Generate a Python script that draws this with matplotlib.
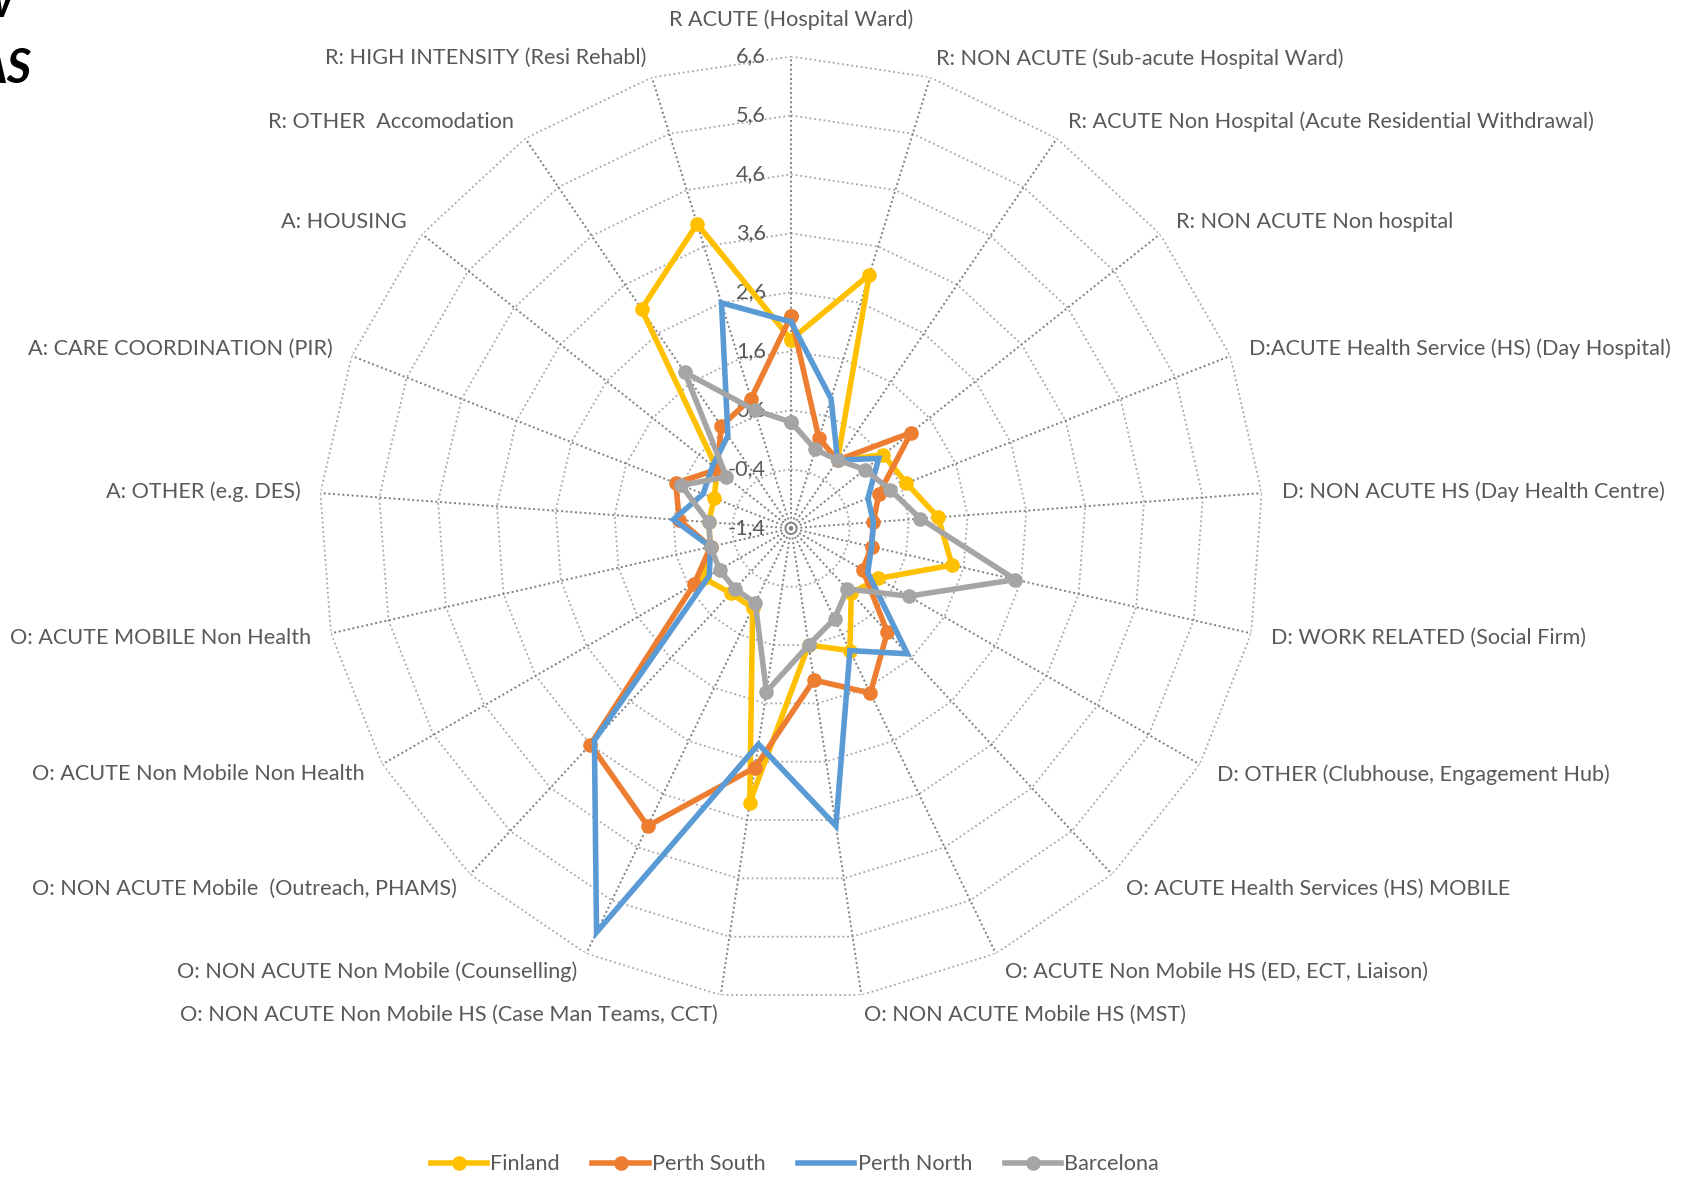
import numpy as np
import matplotlib.pyplot as plt
from matplotlib.transforms import offset_copy
from matplotlib.lines import Line2D

categories = [
    "R ACUTE (Hospital Ward)",
    "R: NON ACUTE (Sub-acute Hospital Ward)",
    "R: ACUTE Non Hospital (Acute Residential Withdrawal)",
    "R: NON ACUTE Non hospital",
    "D:ACUTE Health Service (HS) (Day Hospital)",
    "D: NON ACUTE HS (Day Health Centre)",
    "D: WORK RELATED (Social Firm)",
    "D: OTHER (Clubhouse, Engagement Hub)",
    "O: ACUTE Health Services (HS) MOBILE",
    "O: ACUTE Non Mobile HS (ED, ECT, Liaison)",
    "O: NON ACUTE Mobile HS (MST)",
    "O: NON ACUTE Non Mobile HS (Case Man Teams, CCT)",
    "O: NON ACUTE Non Mobile (Counselling)",
    "O: NON ACUTE Mobile  (Outreach, PHAMS)",
    "O: ACUTE Non Mobile Non Health",
    "O: ACUTE MOBILE Non Health",
    "A: OTHER (e.g. DES)",
    "A: CARE COORDINATION (PIR)",
    "A: HOUSING",
    "R: OTHER  Accomodation",
    "R: HIGH INTENSITY (Resi Rehabl)",
]

finland = [1.8, 3.1, 0.0, 0.6, 0.7, 1.1, 1.4, 0.3, 0.1, 0.9, 0.6,
           3.3, 0.1, 0.1, 0.3, 0.0, 0.0, 0.0, 0.2, 3.1, 4.0]
perth_south = [2.2, 0.2, 0.0, 1.2, 0.2, 0.0, 0.0, 0.0, 1.0, 1.7, 1.2,
               2.7, 4.2, 3.6, 0.5, 0.0, 0.5, 0.7, 0.2, 0.7, 0.9]
perth_north = [2.1, 0.9, 0.0, 0.5, 0.0, 0.0, 0.0, 0.1, 1.5, 0.9, 3.7,
               2.3, 6.2, 3.5, 0.2, 0.0, 0.6, 0.2, 0.3, 0.5, 2.6]
barcelona = [0.4, 0.0, 0.0, 0.2, 0.4, 0.8, 2.5, 0.9, 0.0, 0.3, 0.6,
             1.4, 0.0, 0.0, 0.0, 0.0, 0.0, 0.6, 0.0, 1.8, 0.7]

r_min, r_max = -1.4, 6.6
ring_values = np.arange(-0.4, 6.61, 1.0)

plt.rcParams['font.family'] = ['Lato', 'DejaVu Sans']
text_col = '#595959'
fs = 15.6

fig = plt.figure(figsize=(16.91, 11.82), dpi=100)
ax = fig.add_axes([0.1887, 0.1537, 0.5582, 0.7986], projection='polar')
ax.set_theta_zero_location('N')
ax.set_theta_direction(-1)
ax.set_ylim(r_min, r_max)
ax.grid(False)
ax.spines['polar'].set_visible(False)
ax.set_xticks([])
ax.set_yticks([])
ax.patch.set_alpha(0)

n = len(categories)
theta = np.arange(n) * 2 * np.pi / n
theta_c = np.append(theta, theta[0])

# polygon rings and spokes, dotted like the Excel radar grid
for r in ring_values:
    ax.plot(theta_c, [r] * (n + 1), color='#a6a6a6', lw=1.3,
            ls=(0, (1, 1.6)), zorder=1)
for t in theta:
    ax.plot([t, t], [r_min, r_max], color='#7f7f7f', lw=1.4,
            ls=(0, (1, 1.4)), zorder=1)

# value labels along the top spoke
tick_tr = offset_copy(ax.transData, fig=fig, x=-25, y=0, units='dots')
for v in np.arange(r_min, r_max + 0.01, 1.0):
    ax.text(0, v, f"{v:.1f}".replace('.', ','), transform=tick_tr,
            ha='right', va='center', fontsize=fs, color=text_col, zorder=2)

# category labels just outside the outer ring
px_per_unit = 472 / 8
for k, (t, lab) in enumerate(zip(theta, categories)):
    s = np.sin(t)
    if k == 0:
        ax.text(t, r_min + 509 / px_per_unit, lab, ha='center', va='center',
                fontsize=fs, color=text_col)
        continue
    ha = 'left' if s > 0 else 'right'
    ax.text(t, r_min + 492 / px_per_unit, lab, ha=ha, va='center',
            fontsize=fs, color=text_col)

series = [
    ("Finland", finland, '#FFC000', True),
    ("Perth South", perth_south, '#ED7D31', True),
    ("Perth North", perth_north, '#5B9BD5', False),
    ("Barcelona", barcelona, '#A5A5A5', True),
]
handles = []
for i, (name, vals, col, mk) in enumerate(series):
    v = np.append(vals, vals[0])
    ax.plot(theta_c, v, color=col, lw=4.0, marker='o' if mk else None,
            ms=9.5, zorder=3 + i, solid_joinstyle='miter')
    handles.append(Line2D([0], [0], color=col, lw=4.0,
                          marker='o' if mk else None, ms=9.5))

fig.legend(handles, [s[0] for s in series], loc='center',
           bbox_to_anchor=(0.470, 0.0150), ncol=4, frameon=False,
           fontsize=fs, handlelength=2.6, handletextpad=0.15,
           columnspacing=1.5, labelcolor=text_col)

# tail end of the slide title, running off the left edge
fig.text(12 / 1691, 1 - 17 / 1182, "w", ha='right', va='baseline',
         fontsize=34, fontweight='bold', fontstyle='italic', color='black')
fig.text(32 / 1691, 1 - 83 / 1182, "AS", ha='right', va='baseline',
         fontsize=34, fontweight='bold', fontstyle='italic', color='black')

fig.savefig('out.png', dpi=100)
